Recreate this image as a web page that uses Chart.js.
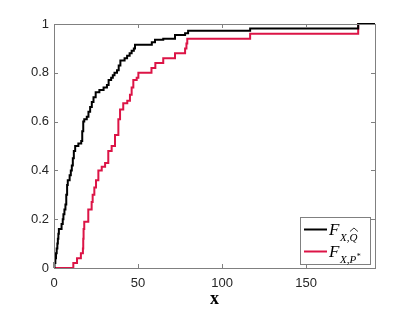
<!DOCTYPE html>
<html>
<head>
<meta charset="utf-8">
<script src="https://cdn.jsdelivr.net/npm/chart.js@4/dist/chart.umd.min.js"></script>
<style>
  body { margin: 0; background: #fff; }
  canvas { display: block; }
</style>
</head>
<body>
<canvas id="myChart" width="415" height="312"></canvas>
<script>
// ECDF of x under Q-hat (black) - jump locations and levels
const qhatX = [0, 0.3, 0.8, 1.2, 1.6, 2.0, 2.3, 2.6, 2.9, 4.5, 5.2, 5.6, 6.2, 6.8, 7.3, 7.8, 8.2, 9.3, 10.0, 10.6, 11.2, 11.8, 12.6, 14.5, 16.2, 16.8, 17.4, 18.0, 19.5, 20.5, 21.5, 22.5, 23.5, 24.8, 27.0, 29.5, 31.5, 32.5, 34.0, 35.0, 36.0, 37.5, 38.5, 39.5, 42.0, 43.5, 45.0, 46.2, 47.5, 48.2, 58.2, 60.1, 65.0, 72.0, 78.0, 79.8, 116.7, 181.0, 191]
const qhatF = [0, 0.02, 0.04, 0.06, 0.08, 0.10, 0.12, 0.14, 0.16, 0.18, 0.20, 0.22, 0.24, 0.26, 0.30, 0.34, 0.36, 0.38, 0.40, 0.42, 0.45, 0.48, 0.50, 0.51, 0.52, 0.56, 0.60, 0.61, 0.62, 0.64, 0.66, 0.68, 0.70, 0.72, 0.73, 0.74, 0.75, 0.77, 0.78, 0.79, 0.80, 0.81, 0.83, 0.85, 0.86, 0.87, 0.88, 0.89, 0.90, 0.915, 0.925, 0.935, 0.94, 0.955, 0.962, 0.972, 0.982, 1.0, 1.0]

// ECDF of x under P* (red)
const pstarX = [0, 11.5, 13.7, 16.0, 17.2, 17.4, 17.6, 18.0, 20.4, 22.4, 23.0, 24.0, 25.0, 26.4, 28.4, 30.4, 32.3, 34.3, 36.3, 38.3, 39.3, 41.2, 43.6, 45.2, 46.2, 47.2, 49.2, 50.2, 58.0, 60.3, 65.0, 72.0, 78.0, 78.8, 79.3, 116.7, 181.0, 191]
const pstarF = [0, 0.02, 0.04, 0.06, 0.08, 0.12, 0.16, 0.19, 0.24, 0.27, 0.30, 0.33, 0.36, 0.40, 0.415, 0.43, 0.48, 0.50, 0.545, 0.61, 0.65, 0.675, 0.685, 0.71, 0.74, 0.77, 0.78, 0.80, 0.82, 0.84, 0.86, 0.88, 0.90, 0.92, 0.94, 0.96, 1.0, 1.0]

const xTicks = [0, 50, 100, 150]
const yTicks = [0, 0.2, 0.4, 0.6, 0.8, 1]
const yLabels = ['0', '0.2', '0.4', '0.6', '0.8', '1']

const toPts = (xs, ys) => xs.map((x, i) => ({ x: x, y: ys[i] }))

const axisColor = '#808080'
const textColor = '#262626'
const redColor = 'rgb(220, 20, 70)'

// frame with inward ticks on all four sides (box on)
const framePlugin = {
  id: 'frame',
  afterDraw(chart) {
    const ctx = chart.ctx
    const a = chart.chartArea
    const xs = chart.scales.x
    const ys = chart.scales.y
    const tl = 4
    ctx.save()
    ctx.strokeStyle = axisColor
    ctx.lineWidth = 1
    ctx.strokeRect(Math.round(a.left) + 0.5, Math.round(a.top) + 0.5, Math.round(a.right - a.left), Math.round(a.bottom - a.top))
    ctx.beginPath()
    xTicks.forEach(v => {
      const px = Math.round(xs.getPixelForValue(v)) + 0.5
      ctx.moveTo(px, a.bottom); ctx.lineTo(px, a.bottom - tl)
      ctx.moveTo(px, a.top); ctx.lineTo(px, a.top + tl)
    })
    yTicks.forEach(v => {
      const py = Math.round(ys.getPixelForValue(v)) + 0.5
      ctx.moveTo(a.left, py); ctx.lineTo(a.left + tl, py)
      ctx.moveTo(a.right, py); ctx.lineTo(a.right - tl, py)
    })
    ctx.stroke()

    // legend box, bottom right inside the axes
    const bw = 70, bh = 47
    const bx = Math.round(a.right) - 5 - bw
    const by = Math.round(a.bottom) - 4 - bh
    ctx.fillStyle = '#fff'
    ctx.fillRect(bx, by, bw, bh)
    ctx.strokeRect(bx + 0.5, by + 0.5, bw, bh)

    const rows = [
      { color: '#000', sub: 'X,Q', hat: true, star: false },
      { color: redColor, sub: 'X,P', hat: false, star: true }
    ]
    rows.forEach((r, i) => {
      const ly = by + 12.5 + i * 22
      ctx.strokeStyle = r.color
      ctx.lineWidth = 2
      ctx.beginPath()
      ctx.moveTo(bx + 4, ly); ctx.lineTo(bx + 27, ly)
      ctx.stroke()
      ctx.fillStyle = '#000'
      ctx.textBaseline = 'alphabetic'
      ctx.textAlign = 'left'
      ctx.font = 'italic 17px "Liberation Serif"'
      ctx.fillText('F', bx + 29, ly + 5)
      ctx.font = 'italic 11px "Liberation Serif"'
      const sx = bx + 40, sy = ly + 11
      ctx.fillText(r.sub, sx, sy)
      const w = ctx.measureText(r.sub).width
      if (r.hat) {
        const qw = ctx.measureText('Q').width
        const q0 = sx + w - qw
        ctx.strokeStyle = '#000'
        ctx.lineWidth = 0.8
        ctx.beginPath()
        ctx.moveTo(q0 + 0.5, sy - 9)
        ctx.lineTo(q0 + qw / 2 + 0.5, sy - 12.5)
        ctx.lineTo(q0 + qw + 0.5, sy - 9)
        ctx.stroke()
      }
      if (r.star) {
        ctx.font = '8px "Liberation Serif"'
        ctx.fillText('*', sx + w + 0.5, sy - 4)
      }
    })
    ctx.restore()
  }
}

const ctx = document.getElementById('myChart').getContext('2d')
const myChart = new Chart(ctx, {
  type: 'line',
  data: {
    datasets: [
      {
        label: 'F_{X,Q}',
        data: toPts(qhatX, qhatF),
        borderColor: '#000',
        borderWidth: 2,
        stepped: true,
        pointRadius: 0,
        fill: false,
        clip: 4,
      },
      {
        label: 'F_{X,P*}',
        data: toPts(pstarX, pstarF),
        borderColor: redColor,
        borderWidth: 2,
        stepped: true,
        pointRadius: 0,
        fill: false,
        clip: 4,
      },
    ],
  },
  options: {
    responsive: false,
    animation: false,
    layout: { padding: { top: 24, right: 40, left: 0, bottom: 0 } },
    plugins: {
      legend: { display: false },
      tooltip: { enabled: false },
    },
    scales: {
      x: {
        type: 'linear',
        min: 0,
        max: 191,
        afterBuildTicks: s => { s.ticks = xTicks.map(v => ({ value: v })) },
        afterFit: s => { s.height = 44 },
        grid: { display: false, drawTicks: false },
        border: { display: false },
        ticks: {
          color: textColor,
          font: { family: '"Liberation Sans"', size: 13 },
          padding: 8,
          maxRotation: 0,
          callback: v => String(v),
        },
        title: {
          display: true,
          text: 'x',
          color: '#000',
          font: { family: '"Liberation Serif"', size: 18, weight: 'bold' },
          padding: { top: 0, bottom: 2 },
        },
      },
      y: {
        type: 'linear',
        min: 0,
        max: 1,
        afterBuildTicks: s => { s.ticks = yTicks.map(v => ({ value: v })) },
        afterFit: s => { s.width = 54 },
        grid: { display: false, drawTicks: false },
        border: { display: false },
        ticks: {
          color: textColor,
          font: { family: '"Liberation Sans"', size: 13 },
          padding: 5,
          callback: (v, i) => yLabels[i],
        },
      },
    },
  },
  plugins: [framePlugin],
})
</script>
</body>
</html>
